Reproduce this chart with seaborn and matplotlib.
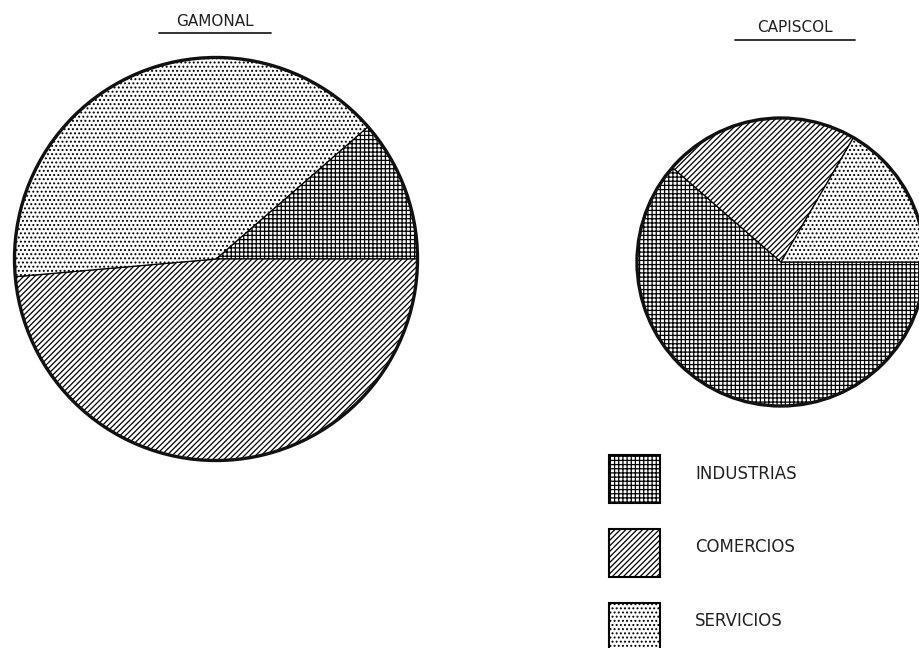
import matplotlib
matplotlib.use("Agg")
import matplotlib.pyplot as plt
import seaborn as sns
from matplotlib.patches import Rectangle, Circle

# Sector shares (%) of establishments in each district
categories = ["INDUSTRIAS", "COMERCIOS", "SERVICIOS"]
gamonal = [11.4, 48.6, 40.0]
capiscol = [61.4, 22.0, 16.6]
districts = ["GAMONAL", "CAPISCOL"]

# Fill pattern for each sector
hatches = ["++++", "//////", "...."]

sns.set_theme(style="white")
plt.rcParams["font.family"] = ["DejaVu Sans"]
plt.rcParams["hatch.linewidth"] = 0.9
plt.rcParams["hatch.color"] = "black"

W, H = 919, 648
fig = plt.figure(figsize=(W / 100, H / 100), dpi=100)
ax = fig.add_axes([0, 0, 1, 1])


def draw_pie(values, center, radius, startangle):
    wedges, _ = ax.pie(
        values, center=center, radius=radius, startangle=startangle,
        counterclock=False, colors=["white"] * len(values), frame=True,
        wedgeprops=dict(edgecolor="black", linewidth=0.9),
    )
    for w, h in zip(wedges, hatches):
        w.set_hatch(h)
    ax.add_patch(Circle(center, radius, fill=False, lw=2.4, edgecolor="#111111"))


# Gamonal: industry slice ends on the horizontal radius
draw_pie(gamonal, (216, H - 259), 201.5, startangle=360 * gamonal[0] / sum(gamonal))
# Capiscol: industry slice starts on the horizontal radius
draw_pie(capiscol, (781, H - 262), 144, startangle=0)

ax.set_xlim(0, W)
ax.set_ylim(0, H)
ax.set_aspect("equal")
ax.axis("off")

# District titles, underlined
for name, (tx, ty), (ux0, ux1, uy) in zip(
    districts, [(215, 21), (795, 27)], [(159, 271, 33), (735, 855, 40)]
):
    ax.text(tx, H - ty, name, ha="center", va="center", fontsize=11, color="#222222")
    ax.plot([ux0, ux1], [H - uy, H - uy], color="#222222", lw=1.3)

# Legend boxes with their labels
box_tops = [455, 529, 603]
text_y = [474, 547, 621]
for cat, h, top, ty in zip(categories, hatches, box_tops, text_y):
    ax.add_patch(Rectangle((609, H - top - 48), 51, 48, facecolor="white",
                           edgecolor="black", lw=1.5, hatch=h))
    ax.text(695, H - ty, cat, ha="left", va="center", fontsize=12, color="#222222")

fig.savefig("out.png", dpi=100)
